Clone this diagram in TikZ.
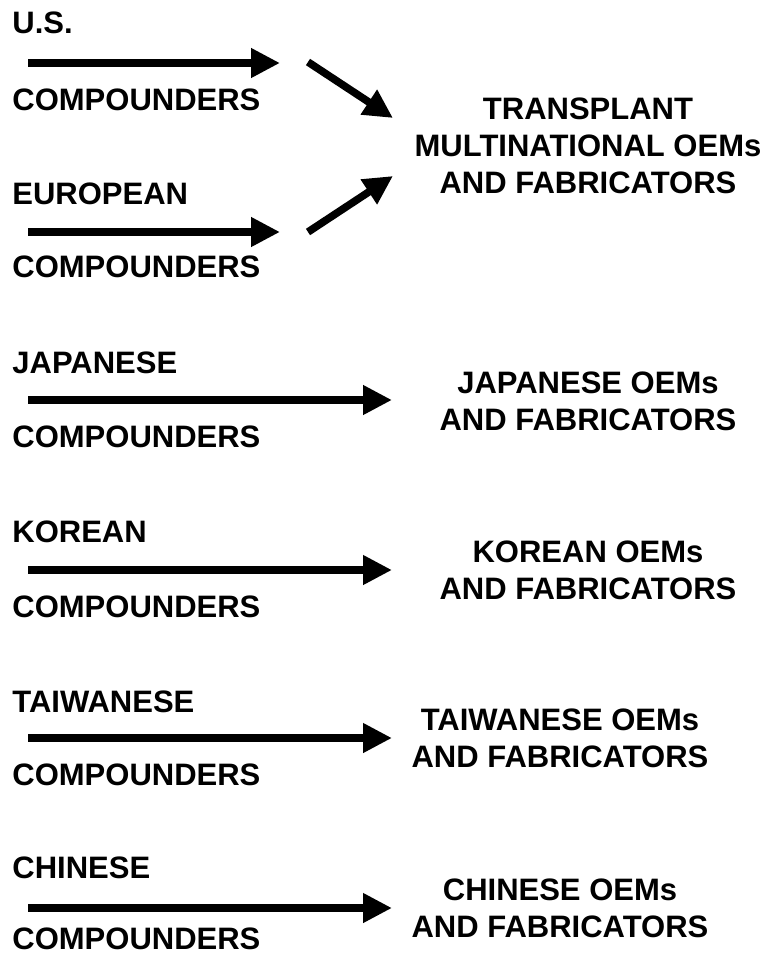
\documentclass[tikz,border=0pt]{standalone}
\usepackage{fontspec}
\setmainfont{Liberation Sans}
\usetikzlibrary{arrows.meta}
\newcommand{\lblfont}{\fontsize{15.5pt}{18.5pt}\selectfont\bfseries}

\begin{document}
\begin{tikzpicture}[x=0.5pt, y=-0.5pt,
    src/.style={anchor=base west, inner sep=0pt, font=\lblfont},
    dst/.style={align=center, inner sep=0pt, font=\lblfont},
    arr/.style={-{Triangle[length=14.5pt, width=14pt]}, line width=3.8pt}
  ]
    \useasboundingbox (0,0) rectangle (769,954);

    % compounders on the left
    \node[src] (us)  at (12,33)  {U.S.};
    \node[src] (usc) at (12,110) {COMPOUNDERS};
    \node[src] (eu)  at (12,204) {EUROPEAN};
    \node[src] (euc) at (12,277) {COMPOUNDERS};
    \node[src] (jp)  at (12,373) {JAPANESE};
    \node[src] (jpc) at (12,447) {COMPOUNDERS};
    \node[src] (kr)  at (12,542) {KOREAN};
    \node[src] (krc) at (12,617) {COMPOUNDERS};
    \node[src] (tw)  at (12,712) {TAIWANESE};
    \node[src] (twc) at (12,785) {COMPOUNDERS};
    \node[src] (cn)  at (12,878) {CHINESE};
    \node[src] (cnc) at (12,949) {COMPOUNDERS};

    % OEMs and fabricators on the right
    \node[dst] (trans) at (588,146) {TRANSPLANT\\MULTINATIONAL OEMs\\AND FABRICATORS};
    \node[dst] (jpo)   at (588,401) {JAPANESE OEMs\\AND FABRICATORS};
    \node[dst] (kro)   at (588,570) {KOREAN OEMs\\AND FABRICATORS};
    \node[dst] (two)   at (560,738) {TAIWANESE OEMs\\AND FABRICATORS};
    \node[dst] (cno)   at (560,908) {CHINESE OEMs\\AND FABRICATORS};

    \coordinate (usa) at (28,63);   \coordinate (usb) at (280,63);
    \coordinate (eua) at (28,232);  \coordinate (eub) at (280,232);
    \coordinate (usd) at (308,62);  \coordinate (use) at (393,118);
    \coordinate (eud) at (308,232); \coordinate (eue) at (393,176);
    \coordinate (jpa) at (28,400);  \coordinate (jpb) at (392,400);
    \coordinate (kra) at (28,570);  \coordinate (krb) at (392,570);
    \coordinate (twa) at (28,738);  \coordinate (twb) at (392,738);
    \coordinate (cna) at (28,908);  \coordinate (cnb) at (392,908);

    \draw[arr] (usa) -- (usb);
    \draw[arr] (eua) -- (eub);
    \draw[arr] (usd) -- (use);
    \draw[arr] (eud) -- (eue);
    \draw[arr] (jpa) -- (jpb);
    \draw[arr] (kra) -- (krb);
    \draw[arr] (twa) -- (twb);
    \draw[arr] (cna) -- (cnb);
  \end{tikzpicture}
\end{document}
